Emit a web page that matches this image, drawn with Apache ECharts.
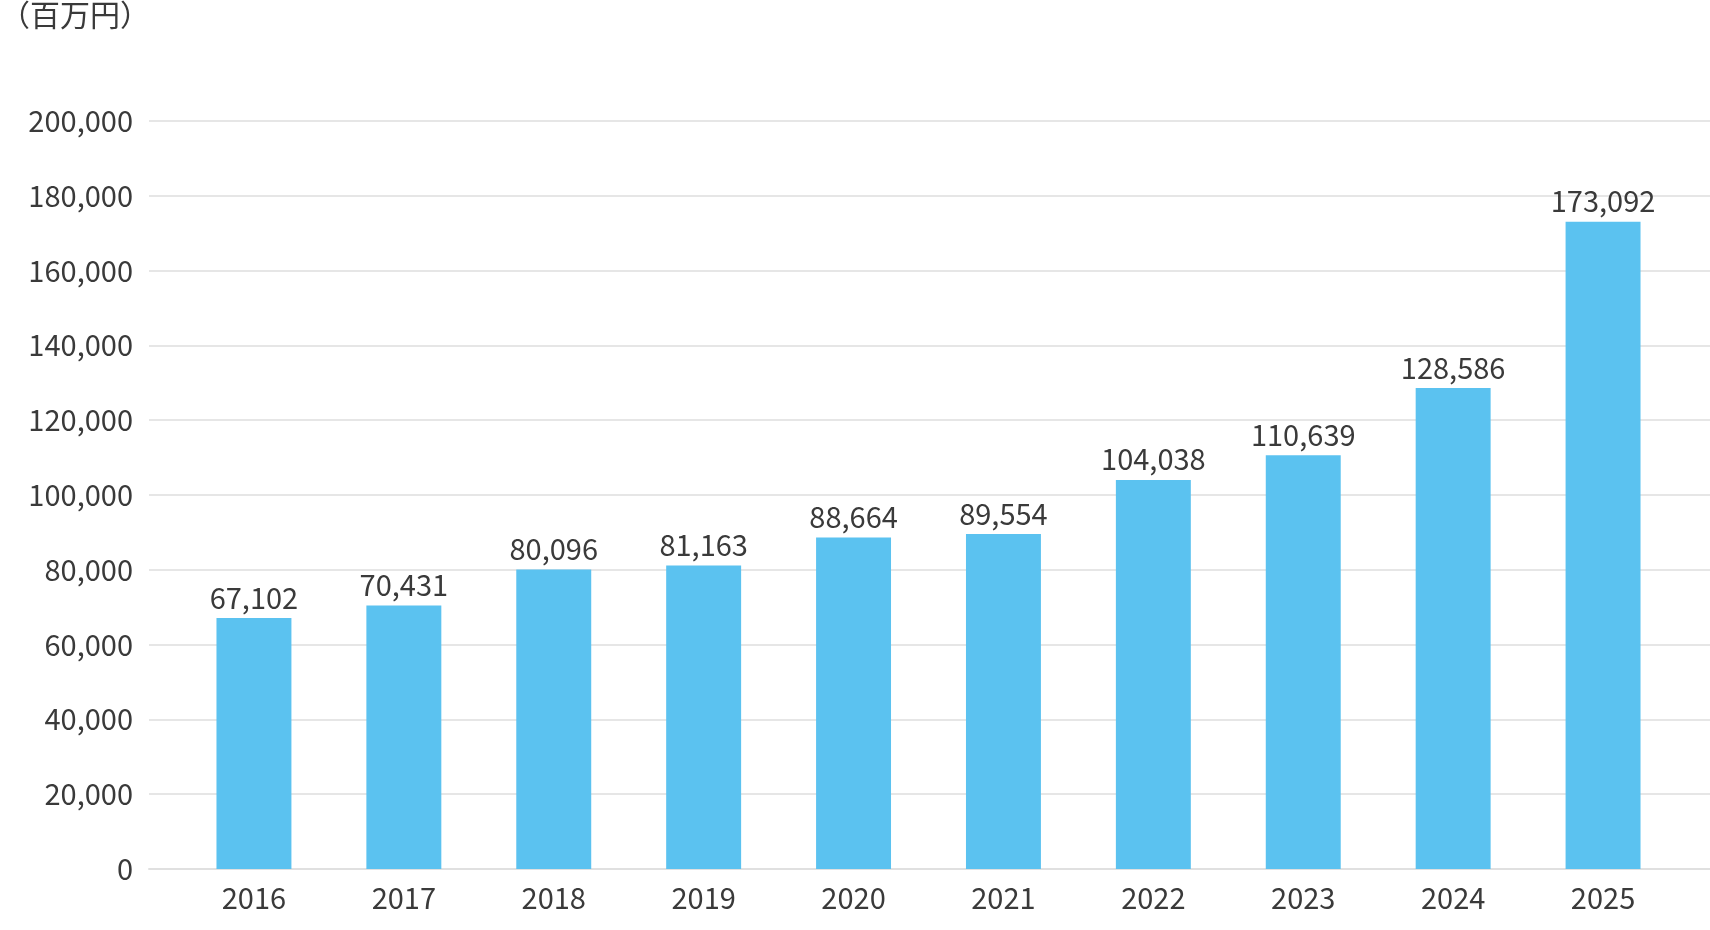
<!DOCTYPE html>
<html><head><meta charset="utf-8">
<script src="https://cdn.jsdelivr.net/npm/echarts@6/dist/echarts.min.js"></script>
<style>html,body{margin:0;padding:0;background:#fff}#c{width:1710px;height:930px}</style>
</head><body><div id="c"></div>
<script>
const categories = ['2016','2017','2018','2019','2020','2021','2022','2023','2024','2025'];
const values = [67102,70431,80096,81163,88664,89554,104038,110639,128586,173092];
const unitLabel = '（百万円）';
const font = '"Noto Sans CJK JP","Noto Sans",sans-serif';
const chart = echarts.init(document.getElementById('c'));
chart.setOption({
  animation:false,
  textStyle:{fontFamily:font},
  graphic:[{type:'text',left:0,top:0,style:{text:unitLabel,font:'30px '+font,fill:'#3a3a3a'}}],
  grid:[{left:149,right:0,top:121,bottom:61},{left:179,right:32,top:121,bottom:61}],
  xAxis:[
    {gridIndex:0,type:'category',data:categories,show:true,
      axisLine:{lineStyle:{color:'#e0e0e0',width:2}},axisTick:{show:false},axisLabel:{show:false}},
    {gridIndex:1,type:'category',data:categories,
      axisLine:{show:false},axisTick:{show:false},
      axisLabel:{color:'#3a3a3a',fontSize:29,margin:14,fontFamily:font}}],
  yAxis:[
    {gridIndex:0,type:'value',min:0,max:200000,interval:20000,
      axisLabel:{color:'#3a3a3a',fontSize:29,margin:16,fontFamily:font,formatter:v=>v.toLocaleString('en-US')},
      splitLine:{lineStyle:{color:'#e6e6e6',width:2}},axisLine:{show:false},axisTick:{show:false}},
    {gridIndex:1,type:'value',min:0,max:200000,interval:20000,show:false,splitLine:{show:false}}],
  series:[{type:'bar',xAxisIndex:1,yAxisIndex:1,data:values,barWidth:'50%',itemStyle:{color:'#5bc2f0'},
    label:{show:true,position:'top',color:'#3a3a3a',fontSize:29,distance:6,fontFamily:font,
      formatter:p=>p.value.toLocaleString('en-US')}}]
});
</script></body></html>
